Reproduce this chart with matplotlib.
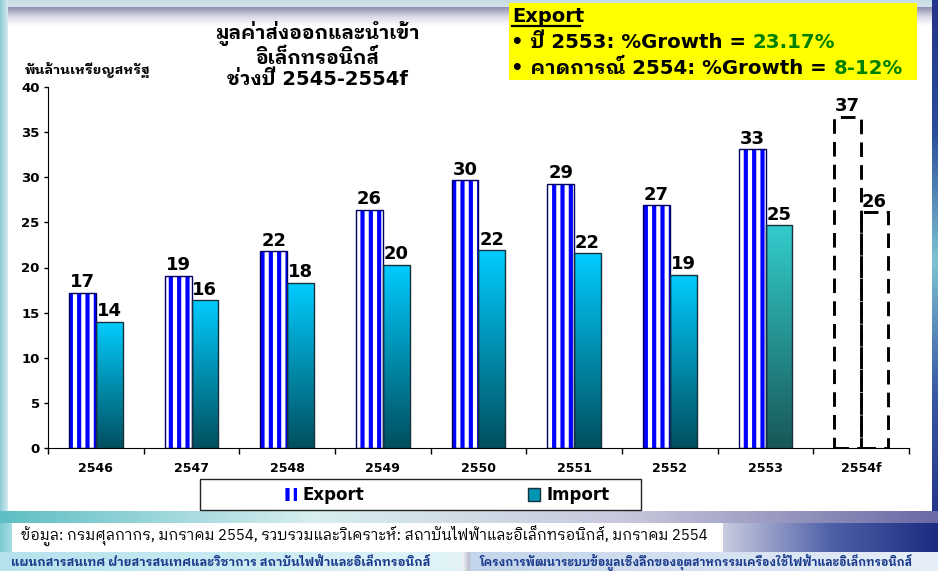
import matplotlib
matplotlib.use("Agg")
import matplotlib.pyplot as plt
import matplotlib.patches as mpatches
from matplotlib.colors import to_rgb
from matplotlib.lines import Line2D
import numpy as np

# data (billion US$)
years = ['2546', '2547', '2548', '2549', '2550', '2551', '2552', '2553', '2554f']
export_vals = [17.2, 19.1, 21.8, 26.4, 29.7, 29.3, 26.9, 33.1, 36.7]
import_vals = [14.0, 16.4, 18.3, 20.3, 21.9, 21.6, 19.2, 24.7, 26.1]
n_forecast = 1  # last category is a forecast

title = "มูลค่าส่งออกและนำเข้า\nอิเล็กทรอนิกส์\nช่วงปี 2545-2554f"
ylabel = "พันล้านเหรียญสหรัฐ"
box_lines = [("• ปี 2553: %Growth = ", "23.17%"),
             ("• คาดการณ์ 2554: %Growth = ", "8-12%")]
source = "ข้อมูล: กรมศุลกากร, มกราคม 2554, รวบรวมและวิเคราะห์: สถาบันไฟฟ้าและอิเล็กทรอนิกส์, มกราคม 2554"
foot_left = "แผนกสารสนเทศ ฝ่ายสารสนเทศและวิชาการ สถาบันไฟฟ้าและอิเล็กทรอนิกส์"
foot_right = "โครงการพัฒนาระบบข้อมูลเชิงลึกของอุตสาหกรรมเครื่องใช้ไฟฟ้าและอิเล็กทรอนิกส์"

THAI = 'IBM Plex Sans Thai Looped'
plt.rcParams['font.family'] = ['DejaVu Sans', THAI]
plt.rcParams['hatch.linewidth'] = 3.0

W, H = 938, 571
fig = plt.figure(figsize=(W / 100, H / 100), dpi=100)


def grad(ax, x0, y0, x1, y1, colors, vertical=True, **kw):
    # gradient box in pixel coords (y counted from the top)
    cols = np.array([to_rgb(c) for c in colors])
    t = np.linspace(0, 1, 128)
    stops = np.linspace(0, 1, len(cols))
    img = np.stack([np.interp(t, stops, cols[:, k]) for k in range(3)], axis=-1)
    img = img[:, None, :] if vertical else img[None, :, :]
    return ax.imshow(img, extent=(x0, x1, H - y1, H - y0), aspect='auto',
                     origin='upper', interpolation='bilinear', **kw)


# slide background
bg = fig.add_axes([0, 0, 1, 1], zorder=-10)
bg.set_xlim(0, W)
bg.set_ylim(0, H)
bg.axis('off')
grad(bg, 0, 0, W, 7, ['#C6DCE4', '#D2E2EA'])
grad(bg, 0, 7, W, 26, ['#8F8CAF', '#D9D9E6', '#FFFFFF'])
grad(bg, 0, 0, 8, 522, ['#8CCAD6', '#D4ECF1'], vertical=False)
grad(bg, 932, 0, W, 522, ['#23358A', '#2A4C9A', '#7FC3D2', '#3A5AA4', '#23358A'])
grad(bg, 0, 511, W, 523, ['#5FBFC4', '#D8EEF0', '#C8C8DC', '#6A6AA6'], vertical=False)
grad(bg, 0, 523, 12, 552, ['#7CCAD2', '#A8DCE2'], vertical=False)
grad(bg, 723, 523, W, 552, ['#C8CCE0', '#5060A8', '#1C2C80'], vertical=False)
bg.add_patch(mpatches.Rectangle((12, H - 551), 711, 28, facecolor='white', edgecolor='none'))
grad(bg, 0, 552, 462, H, ['#B4E2EC', '#E2F4F8'], vertical=False)
grad(bg, 462, 552, 470, H, ['#F4F8FA', '#B8B8C8'], vertical=False)
grad(bg, 470, 552, W, H, ['#C4D4EA', '#E6EEF8'], vertical=False)

# yellow comment box
bg.add_patch(mpatches.Rectangle((509, H - 80), 408, 77, facecolor='#FFFF00', edgecolor='none'))
bg.text(512, H - 17, "Export", fontsize=14, fontweight='bold', va='center', ha='left')
bg.add_line(Line2D([512, 580], [H - 26, H - 26], color='black', lw=1.6))
for k, (black_part, green_part) in enumerate(box_lines):
    tb = bg.text(511, H - 43 - 25 * k, black_part, fontsize=14.2, fontweight='bold',
                 va='center', ha='left')
    bg.annotate(green_part, xy=(1, 0), xycoords=tb, va='bottom', ha='left',
                fontsize=14.2, fontweight='bold', color='#008000')

# footer texts
bg.text(21, H - 536, source, fontsize=10.7, va='center', ha='left', family=[THAI, 'DejaVu Sans'])
bg.text(11, H - 562, foot_left, fontsize=8.7, va='center', ha='left', color='#1A3A8C',
        fontweight='bold', family=[THAI, 'DejaVu Sans'])
bg.text(479, H - 562, foot_right, fontsize=8.3, va='center', ha='left', color='#1A3A8C',
        fontweight='bold', family=[THAI, 'DejaVu Sans'])

# chart area
ax = fig.add_axes([48 / W, 123 / H, 861 / W, 361 / H])
ax.set_facecolor('none')
x = np.arange(len(years))
bw = 0.28
n_actual = len(years) - n_forecast
imp_tops = ['#00CCFF'] * (n_actual - 1) + ['#33CCCC']
imp_bots = ['#00505F'] * (n_actual - 1) + ['#185858']

for i in range(n_actual):
    # export: blue/white vertical stripes
    ax.bar(x[i] - bw / 2, export_vals[i], bw, color='white', edgecolor='#0000FF',
           hatch='||', linewidth=0, zorder=2)
    ax.bar(x[i] - bw / 2, export_vals[i], bw, color='none', edgecolor='#000060',
           linewidth=1.0, zorder=3)
    # import: vertical gradient
    b = ax.bar(x[i] + bw / 2, import_vals[i], bw, color='none', edgecolor='#16313C',
               linewidth=1.0, zorder=3)[0]
    im = grad(ax, 0, 0, 1, 1, [imp_tops[i], imp_bots[i]], zorder=2)
    im.set_extent((x[i], x[i] + bw, 0, import_vals[i]))
    im.set_clip_path(b)

for i in range(n_actual, len(years)):
    for xo, v in [(x[i] - bw / 2, export_vals[i]), (x[i] + bw / 2, import_vals[i])]:
        ax.bar(xo, v, bw, color='none', edgecolor='black', linewidth=2.1,
               linestyle=(0, (5, 2.8)), zorder=3)

for i in range(len(years)):
    ax.annotate("%.0f" % export_vals[i], (x[i] - bw / 2, export_vals[i]), xytext=(0, 1),
                textcoords='offset points', ha='center', va='bottom', fontsize=13,
                fontweight='bold', zorder=4)
    ax.annotate("%.0f" % import_vals[i], (x[i] + bw / 2, import_vals[i]), xytext=(0, 1),
                textcoords='offset points', ha='center', va='bottom', fontsize=13,
                fontweight='bold', zorder=4)

ax.set_xlim(-0.5, len(years) - 0.5)
ax.set_ylim(0, 40)
ax.set_yticks(np.arange(0, 41, 5))
ax.set_xticks(x)
ax.set_xticklabels(years)
ax.set_xticks(np.arange(-0.5, len(years), 1), minor=True)
ax.tick_params(axis='x', which='major', length=0, pad=10, labelsize=9)
ax.tick_params(axis='x', which='minor', length=4, direction='out', width=1)
ax.tick_params(axis='y', length=3, direction='out', width=1, labelsize=9.5, pad=3)
for lab in ax.get_xticklabels() + ax.get_yticklabels():
    lab.set_fontweight('bold')
ax.spines['top'].set_visible(False)
ax.spines['right'].set_visible(False)

fig.text(317 / W, 1 - 55 / H, title, ha='center', va='center', fontsize=14,
         fontweight='bold', linespacing=1.15)
fig.text(25 / W, 1 - 70 / H, ylabel, ha='left', va='center', fontsize=9.7, fontweight='bold')

# legend
handles = [mpatches.Patch(facecolor='white', edgecolor='#0000FF', hatch='||', linewidth=0),
           mpatches.Patch(facecolor='#0095B0', edgecolor='#16313C', linewidth=1)]
fig.legend(handles, ['Export', 'Import'], loc='center', bbox_to_anchor=(447 / W, 76 / H),
           ncol=2, frameon=False, prop={'size': 12, 'weight': 'bold'}, handlelength=0.75,
           handleheight=0.8, handletextpad=0.35, columnspacing=9.8)
bg.add_patch(mpatches.Rectangle((200, H - 510), 441, 31, facecolor='white',
                                edgecolor='#222222', linewidth=1))

fig.savefig("out.png", dpi=100)
